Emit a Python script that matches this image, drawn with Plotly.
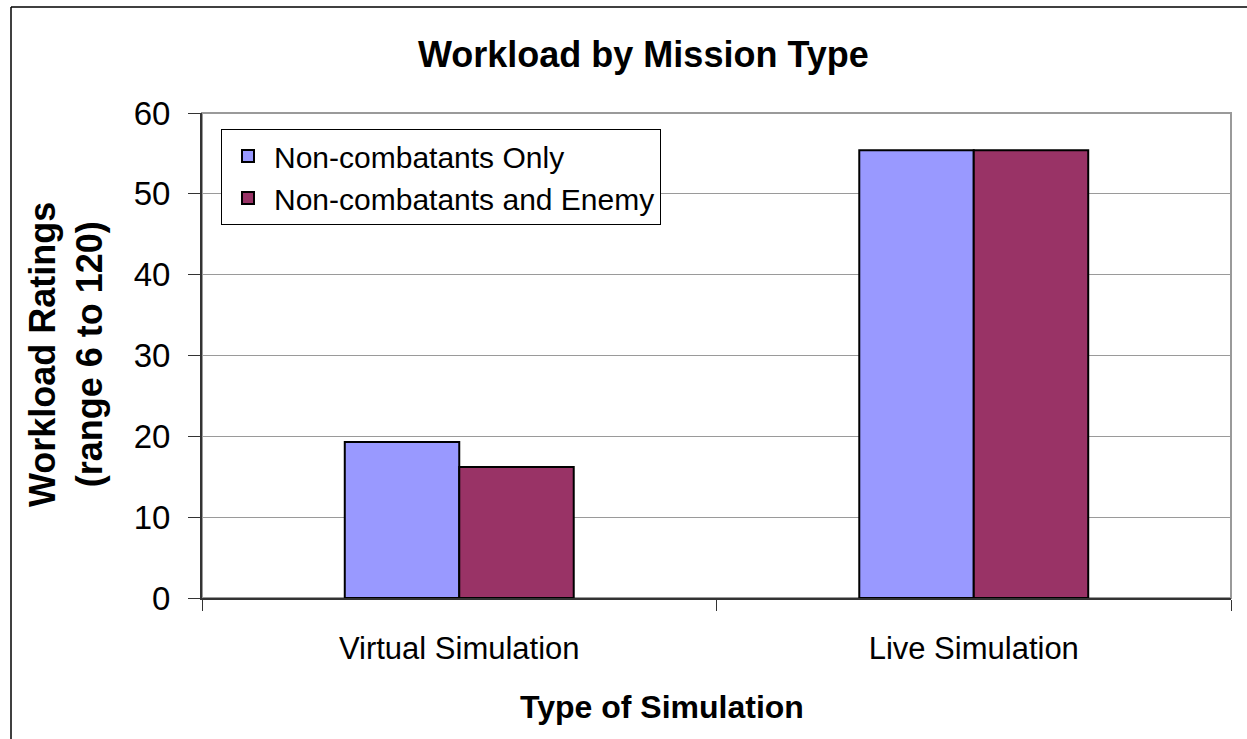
import plotly.graph_objects as go

categories = ["Virtual Simulation", "Live Simulation"]
series_names = ["Non-combatants Only", "Non-combatants and Enemy"]
non_combatants_only = [19.3, 55.4]
non_combatants_and_enemy = [16.2, 55.4]
colors = ["#9999FF", "#993366"]
y_ticks = [0, 10, 20, 30, 40, 50, 60]

FONT = "Liberation Sans, Arial, sans-serif"

W, H = 1247, 739
L, T = 202, 113
pw, ph = 1231 - 202, 598 - 113

def px_x(x):
    return (x - 202) / pw

def px_y(y):
    return (598 - y) / ph

fig = go.Figure()
for name, vals, col in zip(series_names, [non_combatants_only, non_combatants_and_enemy], colors):
    fig.add_trace(go.Bar(
        x=categories, y=vals, name=name,
        marker=dict(color=col, line=dict(color="#000000", width=2)),
    ))

fig.update_layout(
    width=W, height=H,
    margin=dict(l=L, r=W - L - pw, t=T, b=H - T - ph, autoexpand=False),
    paper_bgcolor="white", plot_bgcolor="white",
    barmode="group", bargap=0.555, bargroupgap=0,
    font=dict(family=FONT, color="#000000"),
    showlegend=True,
    legend=dict(
        x=px_x(221), y=px_y(129), xanchor="left", yanchor="top",
        bgcolor="white", bordercolor="#000000", borderwidth=1,
        font=dict(size=30, family=FONT), tracegroupgap=2,
        itemwidth=42, entrywidth=411, entrywidthmode="pixels",
    ),
    xaxis=dict(
        showline=True, linecolor="#333333", linewidth=2,
        ticks="outside", tickson="boundaries", ticklen=11, tickcolor="#333333",
        tickfont=dict(size=31, family=FONT), ticklabelstandoff=22,
        showgrid=False,
    ),
    yaxis=dict(
        range=[0, 60], tickvals=y_ticks,
        showline=True, linecolor="#333333", linewidth=2,
        ticks="outside", ticklen=12, tickcolor="#333333",
        tickfont=dict(size=33, family=FONT), ticklabelstandoff=11,
        showgrid=True, gridcolor="#9a9a9a", gridwidth=1,
        zeroline=False,
    ),
    shapes=[
        dict(type="rect", xref="paper", yref="paper", x0=0, x1=1, y0=0, y1=1,
             line=dict(color="#9a9a9a", width=2), layer="below"),
        dict(type="line", xref="paper", yref="paper",
             x0=px_x(11), x1=px_x(11), y0=px_y(7), y1=px_y(760),
             line=dict(color="#000000", width=1.5), layer="below"),
        dict(type="line", xref="paper", yref="paper",
             x0=px_x(11), x1=px_x(1260), y0=px_y(7), y1=px_y(7),
             line=dict(color="#000000", width=1.5), layer="below"),
    ],
    annotations=[
        dict(text="<b>Workload by Mission Type</b>", xref="paper", yref="paper",
             x=px_x(643), y=px_y(55), xanchor="center", yanchor="middle",
             showarrow=False, font=dict(size=36, family=FONT)),
        dict(text="<b>Type of Simulation</b>", xref="paper", yref="paper",
             x=px_x(662), y=px_y(707), xanchor="center", yanchor="middle",
             showarrow=False, font=dict(size=32, family=FONT)),
        dict(text="<b>Workload Ratings<br>(range 6 to 120)</b>", xref="paper", yref="paper",
             x=px_x(66), y=px_y(355), xanchor="center", yanchor="middle",
             textangle=-90, showarrow=False, font=dict(size=36, family=FONT)),
    ],
)

fig.write_html(
    "out.html",
    config={"displayModeBar": False},
    post_script="document.body.style.margin='0';document.body.style.overflow='hidden';",
)
